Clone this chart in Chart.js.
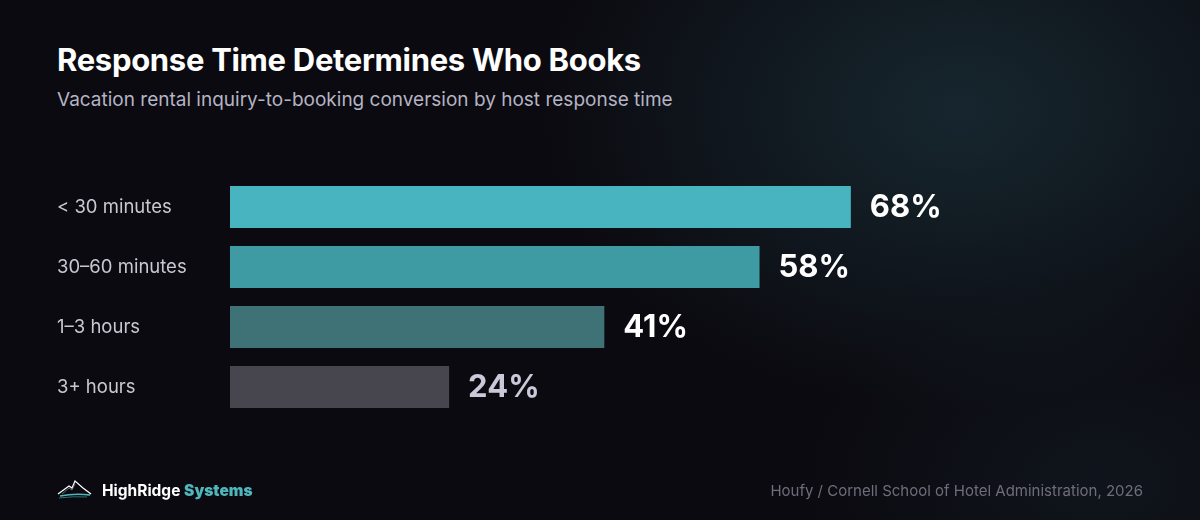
<!DOCTYPE html>
<html>
<head>
<meta charset="utf-8">
<script src="https://cdn.jsdelivr.net/npm/chart.js@4.4.1/dist/chart.umd.min.js"></script>
<style>
  html, body { margin: 0; padding: 0; }
  body {
    width: 1200px; height: 520px; overflow: hidden; position: relative;
    font-family: Inter, "Noto Sans", sans-serif;
    background:
      radial-gradient(ellipse 420px 300px at 960px 110px, rgba(32, 62, 72, 0.55), rgba(32, 62, 72, 0) 100%),
      radial-gradient(ellipse 300px 200px at 1100px 480px, rgba(24, 40, 50, 0.35), rgba(24, 40, 50, 0) 100%),
      #0b0a10;
  }
  #chart { position: absolute; left: 0; top: 0; }
  .title { position: absolute; left: 57px; top: 41px; color: #ffffff; font-size: 31px; font-weight: 700; letter-spacing: -0.3px; }
  .subtitle { position: absolute; left: 57px; top: 88px; color: #b4b4c4; font-size: 19px; }
  .brand { position: absolute; left: 57px; top: 478px; display: flex; align-items: center; }
  .brand span { font-size: 15.5px; font-weight: 700; color: #fff; margin-left: 9px; }
  .brand span b { color: #4fb6bc; }
  .source { position: absolute; right: 57px; top: 481px; color: #6e6e7a; font-size: 15px; }
</style>
</head>
<body>
<div class="title">Response Time Determines Who Books</div>
<div class="subtitle">Vacation rental inquiry-to-booking conversion by host response time</div>
<canvas id="chart" width="1200" height="520"></canvas>
<div class="brand">
  <svg width="36" height="24" viewBox="0 0 36 24">
    <path d="M1 16 L12 8 L15 10 L18 3 L26 10 L34 16" fill="none" stroke="#ffffff" stroke-width="1.2"/>
    <path d="M5 16 L12 10 L15 12 L18 6" fill="none" stroke="#9aa" stroke-width="0.6"/>
    <path d="M3 18 Q18 15 33 17" fill="none" stroke="#4fb6bc" stroke-width="1.6"/>
    <path d="M2 20 Q17 18 30 19" fill="none" stroke="#2d6f75" stroke-width="1"/>
  </svg>
  <span>HighRidge <b>Systems</b></span>
</div>
<div class="source">Houfy / Cornell School of Hotel Administration, 2026</div>
<script>
const categorias = ["< 30 minutes", "30–60 minutes", "1–3 hours", "3+ hours"];
const valores = [68, 58, 41, 24];
const coloresBarra = ["#47b4bf", "#3e9aa3", "#3f7277", "#47464e"];
const coloresEtiqueta = ["#ffffff", "#ffffff", "#ffffff", "#c9c9d9"];

const etiquetasValor = {
  id: "etiquetasValor",
  afterDatasetsDraw(chart) {
    const ctx = chart.ctx;
    const meta = chart.getDatasetMeta(0);
    ctx.save();
    ctx.font = "700 31px Inter, 'Noto Sans', sans-serif";
    ctx.textBaseline = "middle";
    ctx.textAlign = "left";
    meta.data.forEach((bar, i) => {
      ctx.fillStyle = coloresEtiqueta[i];
      ctx.fillText(valores[i] + "%", bar.x + 19, bar.y + 1);
    });
    ctx.restore();
  }
};

const ctx = document.getElementById("chart").getContext("2d");
new Chart(ctx, {
  type: "bar",
  data: {
    labels: categorias,
    datasets: [{
      data: valores,
      backgroundColor: coloresBarra,
      borderWidth: 0,
      barPercentage: 0.7,
      categoryPercentage: 1.0,
    }],
  },
  options: {
    indexAxis: "y",
    responsive: false,
    animation: false,
    devicePixelRatio: 1,
    layout: { padding: { left: 57, right: 57, top: 177, bottom: 103 } },
    plugins: {
      legend: { display: false },
      tooltip: { enabled: false },
    },
    scales: {
      x: { display: false, min: 0, max: 100 },
      y: {
        grid: { display: false },
        border: { display: false },
        ticks: {
          color: "#c8c8d2",
          font: { family: "Inter, 'Noto Sans', sans-serif", size: 18.5 },
          crossAlign: "far",
          padding: 0,
        },
        afterFit: (scale) => { scale.width = 173; },
      },
    },
  },
  plugins: [etiquetasValor],
});
</script>
</body>
</html>
